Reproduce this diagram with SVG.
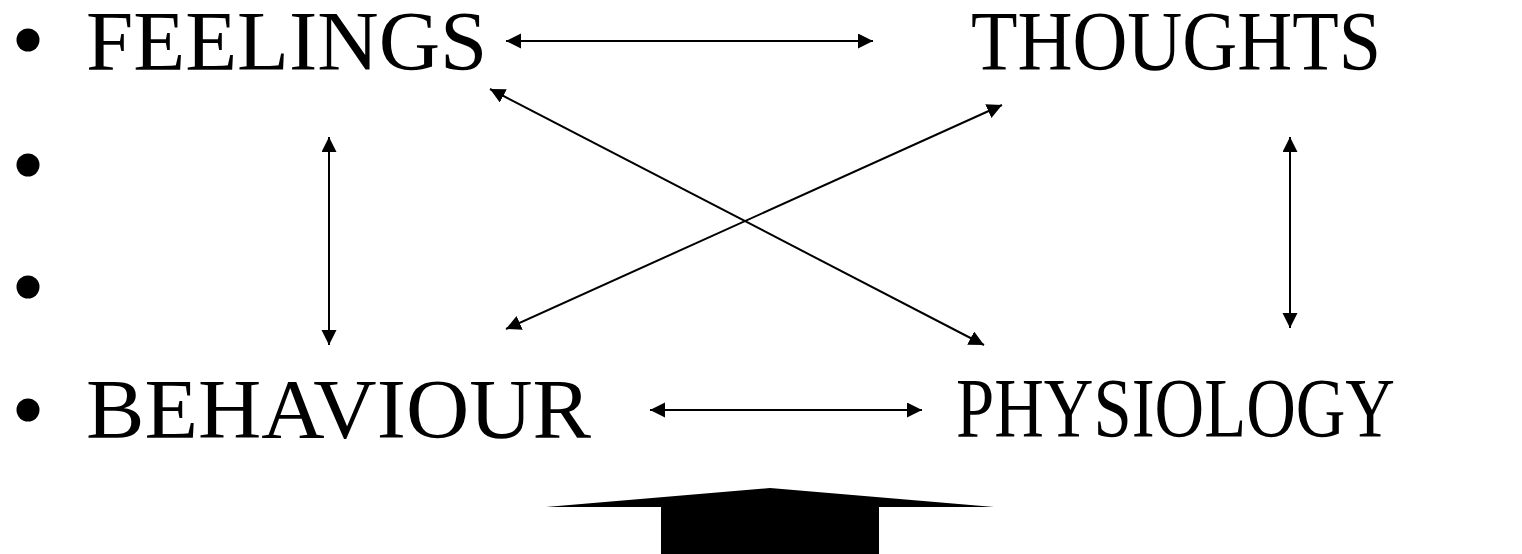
<svg xmlns="http://www.w3.org/2000/svg" width="1522" height="554" viewBox="0 0 1522 554">
<style>
.lbl{font-family:"Liberation Serif","Times New Roman",serif;font-size:85px;fill:#000}
.con{stroke:#000;stroke-width:2;fill:none;marker-start:url(#ah);marker-end:url(#ah)}
</style>
<defs>
<marker id="ah" markerUnits="userSpaceOnUse" markerWidth="16" markerHeight="16" refX="15" refY="7.5" orient="auto-start-reverse" viewBox="0 0 16 16">
<path d="M0,0 L15,7.5 L0,15 z" fill="#000"/>
</marker>
</defs>
<rect width="1522" height="554" fill="#fff"/>
<g id="bullets" fill="#000">
<circle cx="28" cy="40" r="11.5"/>
<circle cx="28" cy="165" r="11.5"/>
<circle cx="28" cy="287" r="11.5"/>
<circle cx="28" cy="410" r="11.5"/>
</g>
<g id="feelings"><text class="lbl" x="86" y="70">FEELINGS</text></g>
<g id="thoughts"><text class="lbl" x="971" y="70" textLength="410" lengthAdjust="spacingAndGlyphs">THOUGHTS</text></g>
<g id="behaviour"><text class="lbl" x="86" y="438" textLength="505" lengthAdjust="spacingAndGlyphs">BEHAVIOUR</text></g>
<g id="physiology"><text class="lbl" x="956" y="437" textLength="439" lengthAdjust="spacingAndGlyphs">PHYSIOLOGY</text></g>
<g id="connectors">
<line class="con" x1="506" y1="41" x2="873" y2="41"/>
<line class="con" x1="329" y1="137" x2="329" y2="345"/>
<line class="con" x1="1290" y1="137" x2="1290" y2="328"/>
<line class="con" x1="490" y1="89" x2="984" y2="345"/>
<line class="con" x1="1002" y1="105" x2="506" y2="329"/>
<line class="con" x1="650" y1="410" x2="922" y2="410"/>
</g>
<g id="big-arrow">
<polygon points="661,554 661,507 546,507 770,488 994,507 879,507 879,554" fill="#000"/>
</g>
</svg>
